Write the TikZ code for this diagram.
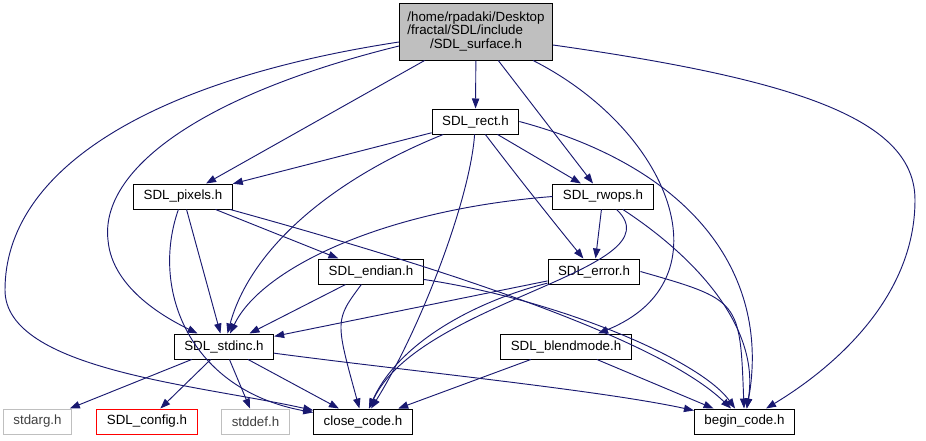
\documentclass[tikz,border=0pt]{standalone}
\usepackage{fontspec}
\setmainfont{Liberation Sans}
\usetikzlibrary{arrows.meta}
\definecolor{edgeblue}{HTML}{191970}
\definecolor{lgray}{HTML}{BFBFBF}
\begin{document}
\begin{tikzpicture}[x=0.75pt,y=-0.75pt,
  box/.style={draw=black, fill=white, font=\fontsize{10}{12.5}\selectfont, minimum height=18.75pt, inner xsep=7.5pt, inner ysep=0pt, line width=0.75pt},
  gbox/.style={box, draw=lgray, text=black!75},
  rbox/.style={box, draw=red},
  e/.style={draw=edgeblue, line width=0.7pt, -{Triangle[length=7.5pt,width=5.5pt]}}]
\useasboundingbox (0,0) rectangle (926,440);
\node[box, fill=lgray, minimum height=42.75pt, inner xsep=6pt] (surf) at (476,31.5) {\begin{tabular}{@{}l@{}}/home/rpadaki/Desktop\\[-2.5pt]/fractal/SDL/include\\[-2.5pt]\multicolumn{1}{@{}c@{}}{/SDL\_surface.h}\end{tabular}};
\node[box] (rect) at (475.5,121.5) {SDL\_rect.h};
\node[box] (pix) at (183,196.5) {SDL\_pixels.h};
\node[box] (rwops) at (603,196.5) {SDL\_rwops.h};
\node[box] (endian) at (371,271.5) {SDL\_endian.h};
\node[box] (error) at (594,271.5) {SDL\_error.h};
\node[box] (stdinc) at (224,346.5) {SDL\_stdinc.h};
\node[box] (blend) at (566,346.5) {SDL\_blendmode.h};
\node[gbox] (stdarg) at (37.5,421.5) {stdarg.h};
\node[rbox] (config) at (147,421.5) {SDL\_config.h};
\node[gbox] (stddef) at (255.5,421.5) {stddef.h};
\node[box] (close) at (363,421.5) {close\_code.h};
\node[box] (begin) at (744.5,421.5) {begin\_code.h};

% from surface
\draw[e] (surf.west |- 0,42) .. controls (150,80) and (5,170) .. (5,290) .. controls (5,370) and (200,385) .. (close);
\draw[e] (surf.west |- 0,46) .. controls (200,95) and (100,170) .. (108,240) .. controls (112,290) and (170,320) .. (stdinc);
\draw[e] (surf) -- (pix);
\draw[e] (surf) -- (rect);
\draw[e] (surf) -- (rwops);
\draw[e] (surf) .. controls (670,130) and (730,280) .. (blend);
\draw[e] (surf.east |- 0,45) .. controls (800,80) and (915,120) .. (915,200) .. controls (915,300) and (830,370) .. (begin);

% from rect
\draw[e] (rect) -- (pix);
\draw[e] (rect) .. controls (330,180) and (250,250) .. (stdinc);
\draw[e] (rect) .. controls (470,200) and (420,330) .. (close);
\draw[e] (rect) .. controls (520,180) and (560,230) .. (error);
\draw[e] (rect) -- (rwops);
\draw[e] (rect.east) .. controls (700,170) and (770,280) .. (begin);

% from pixels
\draw[e] (pix) -- (stdinc);
\draw[e] (pix) -- (endian);
\draw[e] (pix) .. controls (150,290) and (190,390) .. (close);
\draw[e] (pix) .. controls (450,270) and (660,340) .. (begin);

% from rwops
\draw[e] (rwops.west) .. controls (380,210) and (260,270) .. (stdinc);
\draw[e] (rwops) -- (error);
\draw[e] (rwops) .. controls (680,270) and (420,300) .. (close);
\draw[e] (rwops) .. controls (700,260) and (760,330) .. (begin);

% from endian
\draw[e] (endian) -- (stdinc);
\draw[e] (endian) .. controls (335,320) .. (close);
\draw[e] (endian) .. controls (560,300) and (700,360) .. (begin);

% from error
\draw[e] (error) -- (stdinc);
\draw[e] (error) .. controls (480,300) and (400,340) .. (close);
\draw[e] (error.east) .. controls (740,300) .. (begin);

% from stdinc
\draw[e] (stdinc) -- (stdarg);
\draw[e] (stdinc) -- (config);
\draw[e] (stdinc) -- (stddef);
\draw[e] (stdinc) -- (close);
\draw[e] (stdinc) .. controls (400,370) and (600,390) .. (begin);

% from blendmode
\draw[e] (blend) -- (close);
\draw[e] (blend) -- (begin);
\end{tikzpicture}
\end{document}
